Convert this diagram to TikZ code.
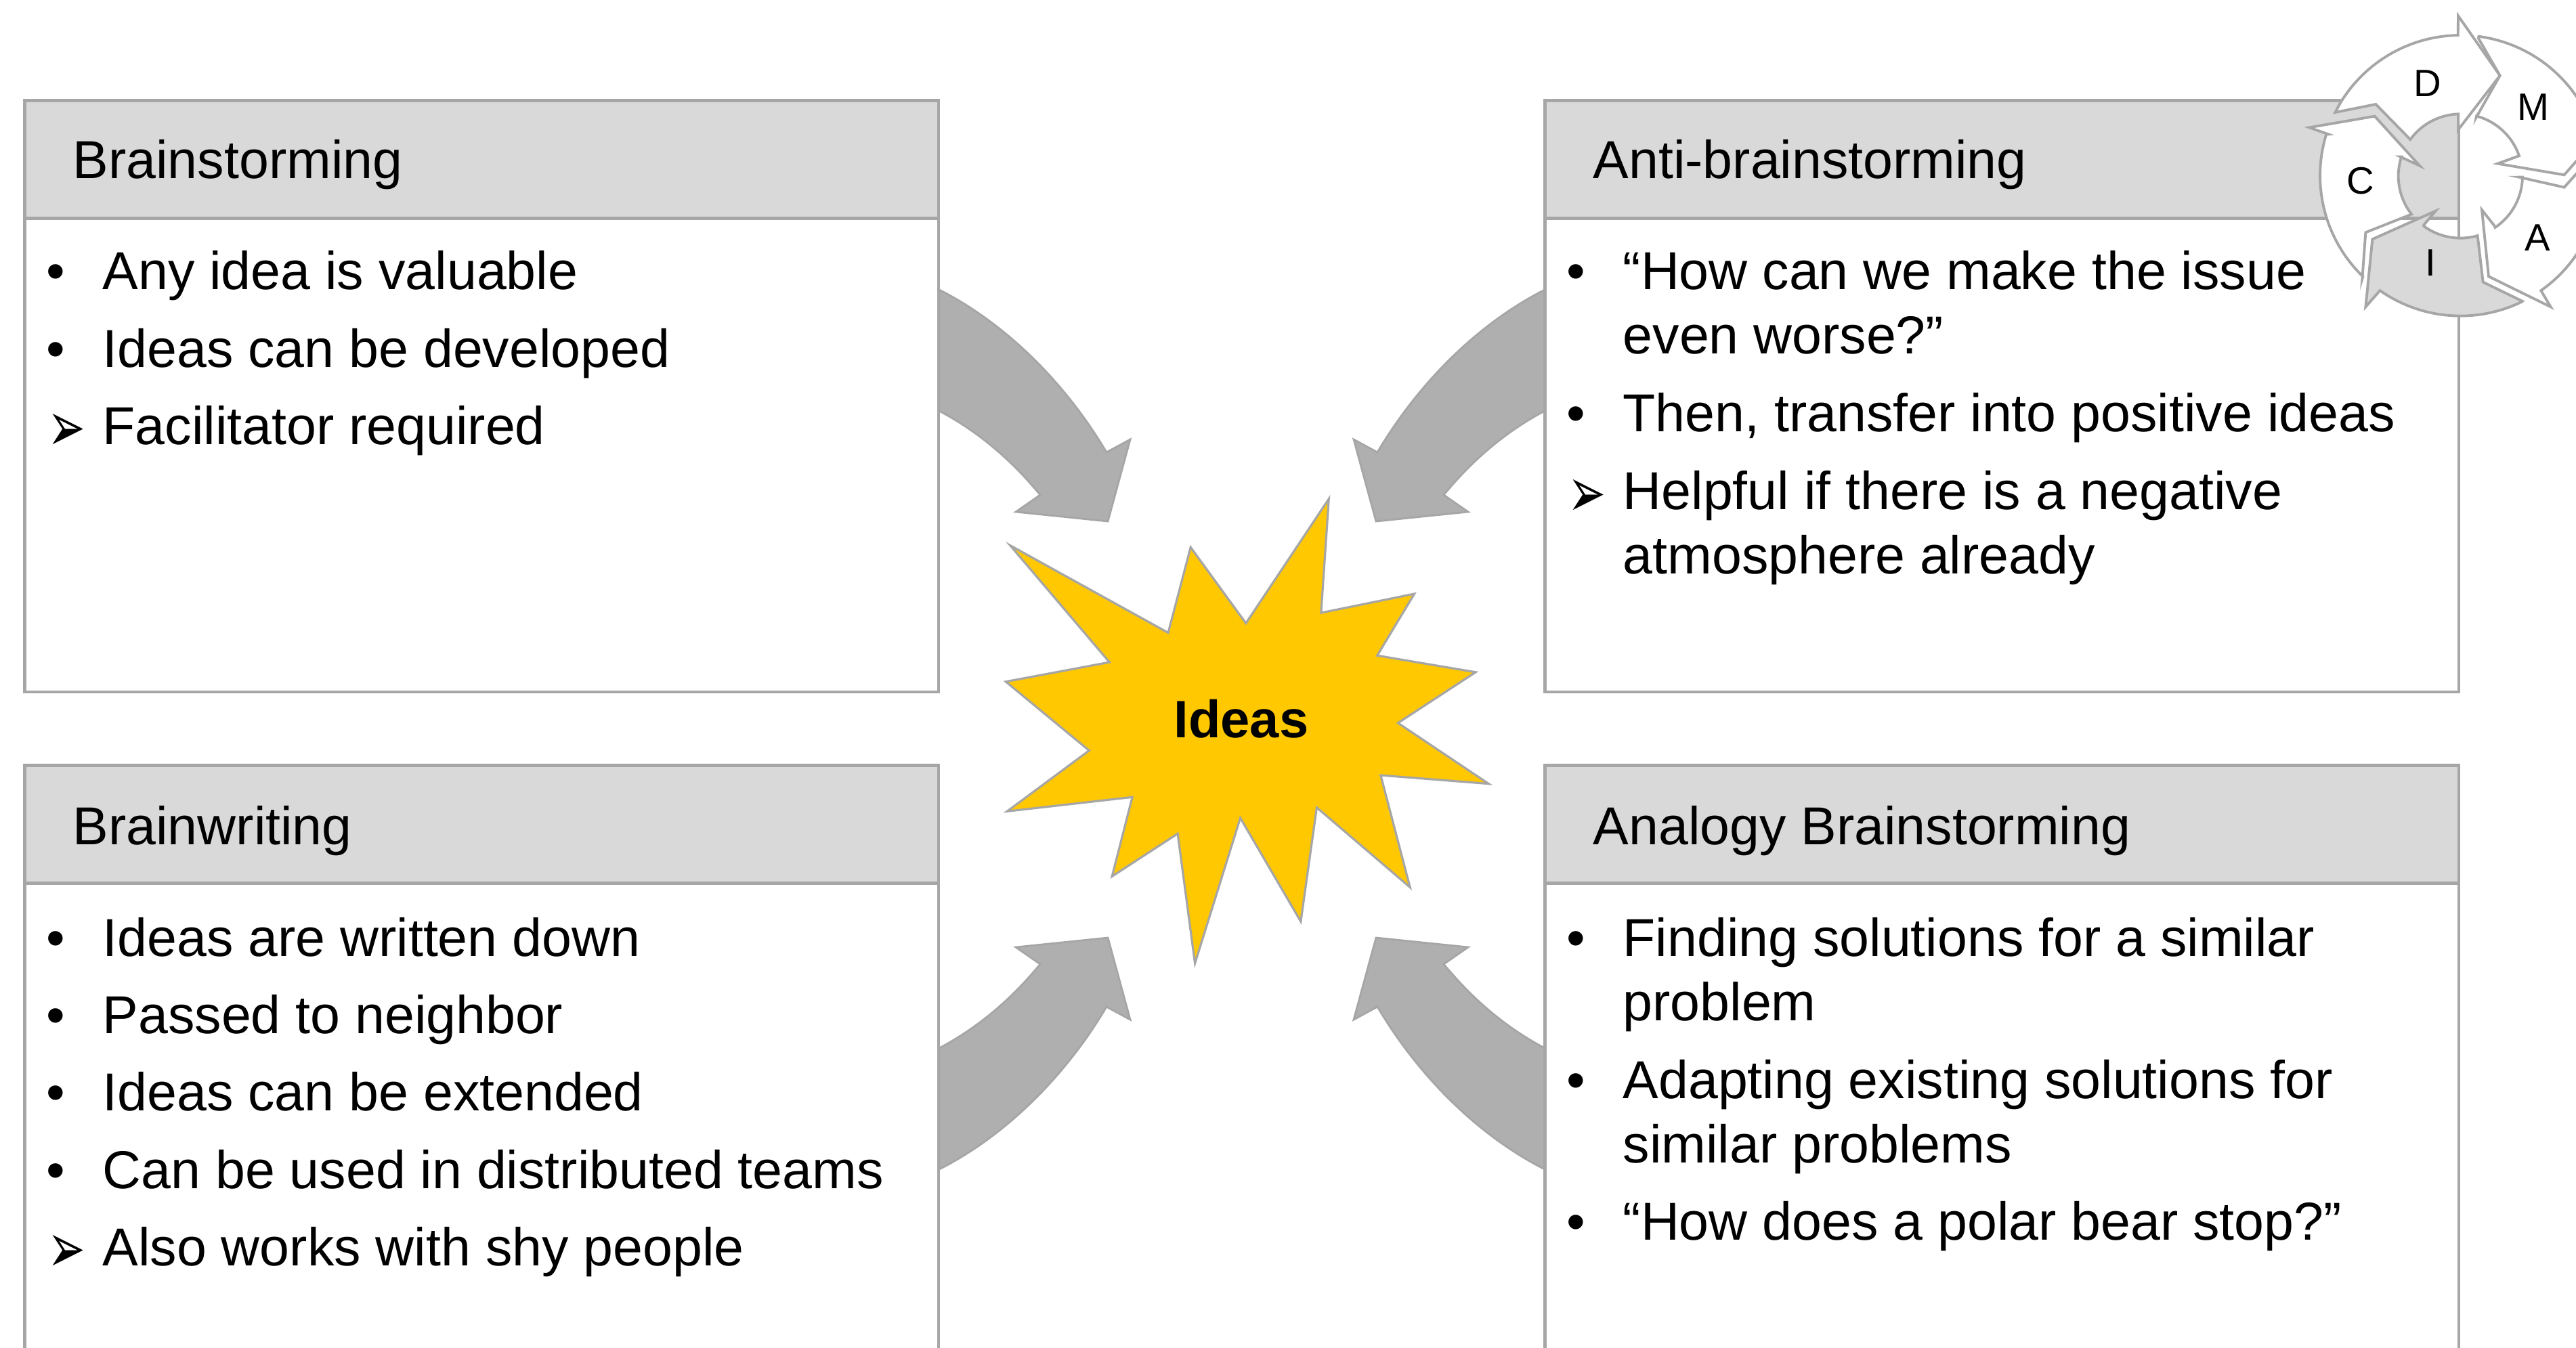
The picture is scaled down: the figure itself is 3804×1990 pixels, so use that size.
\documentclass[tikz,border=0pt]{standalone}
\usepackage{graphicx}
\usepackage{fontspec}
\setmainfont{Liberation Sans}
\newfontfamily\dejavu{DejaVu Sans}
\definecolor{edgegrey}{HTML}{A6A6A6}
\definecolor{headgrey}{HTML}{D9D9D9}
\definecolor{arrowgrey}{HTML}{AFAFAF}
\definecolor{burst}{HTML}{FFC800}
\newcommand{\ox}{1000+622*cos(\x)}
\newcommand{\oy}{778+622*sin(\x)}
\newcommand{\ix}{1000+275*cos(\x)}
\newcommand{\iy}{780+275*sin(\x)}
\newcommand{\bigarr}[2]{\begin{scope}[#2]
  \draw[bigarrow] (1387,428) .. controls (1480,475) and (1570,560) .. (1634,668)
    -- (1669,649) -- (1636,770) -- (1500,756) -- (1536,731)
    .. controls (1490,675) and (1440,635) .. (1387,607) -- cycle;
\end{scope}}
\tikzset{
  bodybox/.style={draw=edgegrey,line width=1.3pt,fill=white,rectangle,anchor=north west,inner sep=0pt,minimum width=13.49cm},
  headbox/.style={bodybox,fill=headgrey,minimum height=1.74cm},
  bigarrow/.style={draw=edgegrey,line width=0.8pt,fill=arrowgrey},
  ringpart/.style={draw=edgegrey,line width=1.1pt,fill=white},
  ringgrey/.style={ringpart,fill=headgrey},
  txt/.style={anchor=base west,inner sep=0pt,font=\fontsize{22.43}{26}\selectfont},
  ringtxt/.style={inner sep=0pt,font=\fontsize{16}{19}\selectfont},
  arc pts/.style={samples=24,domain=#1},
}
\newcommand{\bul}[3]{\node[txt] (b#3) at (#1,#2) {•};}
\newcommand{\arrb}[3]{\node[txt,font=\dejavu\fontsize{19}{22}\selectfont] (a#3) at (#1,#2) {\scalebox{1}[1.55]{➢}};}
\begin{document}
\begin{tikzpicture}[x=0.01cm,y=-0.01cm]
\useasboundingbox (0,0) rectangle (3804,1990);
\clip (0,0) rectangle (3804,1990);
\fill[white] (0,0) rectangle (3804,1990);

% block arrows
\bigarr{tl}{}
\bigarr{tr}{shift={(3668,0)},xscale=-1}
\bigarr{bl}{shift={(0,2155)},yscale=-1}
\bigarr{br}{shift={(3668,2155)},xscale=-1,yscale=-1}

% boxes
\node[bodybox,minimum height=8.73cm] (box1) at (34,146) {};
\node[headbox] (head1) at (34,146) {};
\node[bodybox,minimum height=8.73cm] (box2) at (2279,146) {};
\node[headbox] (head2) at (2279,146) {};
\node[bodybox,minimum height=10cm] (box3) at (34,1128) {};
\node[headbox] (head3) at (34,1128) {};
\node[bodybox,minimum height=10cm] (box4) at (2279,1128) {};
\node[headbox] (head4) at (2279,1128) {};

% box 1
\node[txt] (t1) at (107,263) {Brainstorming};
\bul{68}{427}{11}\node[txt] (t11) at (151,427) {Any idea is valuable};
\bul{68}{542}{12}\node[txt] (t12) at (151,542) {Ideas can be developed};
\arrb{70}{666}{13}\node[txt] (t13) at (151,656) {Facilitator required};

% box 2
\node[txt] (t2) at (2352,263) {Anti-brainstorming};
\bul{2313}{427}{21}\node[txt] (t21) at (2396,427) {“How can we make the issue};
\node[txt] (t22) at (2396,522) {even worse?”};
\bul{2313}{637}{23}\node[txt] (t23) at (2396,637) {Then, transfer into positive ideas};
\arrb{2315}{763}{24}\node[txt] (t24) at (2396,752) {Helpful if there is a negative};
\node[txt] (t25) at (2396,847) {atmosphere already};

% box 3
\node[txt] (t3) at (107,1247) {Brainwriting};
\bul{68}{1412}{31}\node[txt] (t31) at (151,1412) {Ideas are written down};
\bul{68}{1526}{32}\node[txt] (t32) at (151,1526) {Passed to neighbor};
\bul{68}{1640}{33}\node[txt] (t33) at (151,1640) {Ideas can be extended};
\bul{68}{1755}{34}\node[txt] (t34) at (151,1755) {Can be used in distributed teams};
\arrb{70}{1879}{35}\node[txt] (t35) at (151,1869) {Also works with shy people};

% box 4
\node[txt] (t4) at (2352,1247) {Analogy Brainstorming};
\bul{2313}{1412}{41}\node[txt] (t41) at (2396,1412) {Finding solutions for a similar};
\node[txt] (t42) at (2396,1507) {problem};
\bul{2313}{1622}{43}\node[txt] (t43) at (2396,1622) {Adapting existing solutions for};
\node[txt] (t44) at (2396,1717) {similar problems};
\bul{2313}{1831}{45}\node[txt] (t45) at (2396,1831) {“How does a polar bear stop?”};

% burst
\begin{scope}[shift={(1350,400)},xscale=0.6378,yscale=0.7015]
\draw[draw=edgegrey,line width=0.9pt,fill=burst]
  (222,578) -- (588,762) -- (640,582) -- (768,742) -- (960,480) -- (942,720)
  -- (1158,680) -- (1072,810) -- (1300,845) -- (1120,952) -- (1330,1080)
  -- (1080,1062) -- (1148,1298) -- (932,1130) -- (895,1370) -- (755,1152)
  -- (650,1458) -- (610,1185) -- (458,1275) -- (505,1108) -- (215,1138)
  -- (405,1010) -- (212,865) -- (452,824) -- cycle;
\end{scope}
\node[txt,font=\bfseries\fontsize{22.1}{26}\selectfont,anchor=base] (ideas) at (1833,1089) {Ideas};

% DMAIC cycle
\begin{scope}[shift={(3300,0)},scale=0.3333]
\draw[ringpart] (445,498) -- (625,462) -- (770,610)
  -- plot[arc pts=-144:-92] ({\ix},{\iy})
  -- (990,575) -- (1175,335) -- (990,70)
  -- plot[arc pts=-91:-149] ({\ox},{\oy}) -- cycle;
\draw[ringpart] (1080,170) -- (1175,335) -- (1070,520)
  -- plot[arc pts=-75:-19] ({\ix},{\iy})
  -- (1165,725) -- (1460,775) -- (1700,500)
  -- plot[arc pts=-25:-82.5] ({\ox},{\oy}) -- cycle;
\draw[ringpart] (1260,785) -- (1460,830) -- (1700,560)
  -- plot[arc pts=10:55] ({\ox},{\oy})
  -- (1400,1360) -- (1125,1225) -- (1095,930) -- (1150,1000)
  -- plot[arc pts=56:1] ({\ix},{\iy}) -- cycle;
\draw[ringgrey] (580,1360) -- (610,1060) -- (890,935) -- (835,1000)
  -- plot[arc pts=127:74] ({\ix},{\iy})
  -- (1100,1250) -- (1275,1335)
  -- plot[arc pts=64:125] ({\ox},{\oy}) -- cycle;
\draw[ringpart] (330,565) -- (620,515) -- (820,735) -- (735,695)
  -- plot[arc pts=198:142] ({\ix},{\iy})
  -- (580,1030) -- (565,1235)
  -- plot[arc pts=134:197] ({\ox},{\oy}) -- (415,595) -- cycle;
\node[ringtxt] (rd) at (855,370) {D};
\node[ringtxt] (rm) at (1322,475) {M};
\node[ringtxt] (ra) at (1342,1055) {A};
\node[ringtxt] (ri) at (868,1165) {I};
\node[ringtxt] (rc) at (558,800) {C};
\end{scope}
\end{tikzpicture}
\end{document}
